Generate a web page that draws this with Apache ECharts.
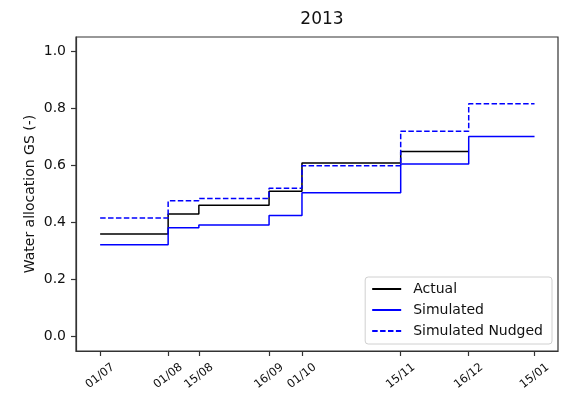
<!DOCTYPE html>
<html>
<head>
<meta charset="utf-8">
<script src="https://cdn.jsdelivr.net/npm/echarts@6/dist/echarts.min.js"></script>
<style>
  html, body { margin: 0; padding: 0; background: #fff; }
  #chart { width: 561px; height: 396px; }
</style>
</head>
<body>
<div id="chart"></div>
<script>
// Allocation announcement dates (each value holds until the next date)
const changeDates = ['2013-07-01', '2013-08-01', '2013-08-15', '2013-09-16',
                     '2013-10-01', '2013-11-15', '2013-12-16', '2014-01-15'];
// Water allocation per period, general security (-)
const actual    = [0.360, 0.430, 0.461, 0.510, 0.609, 0.649];
const simulated = [0.322, 0.382, 0.391, 0.425, 0.504, 0.605, 0.701];
const nudged    = [0.416, 0.476, 0.484, 0.520, 0.599, 0.720, 0.816];
const yTicks = [0.0, 0.2, 0.4, 0.6, 0.8, 1.0];
const titleText = '2013';

const DAY = 86400000;
const FONT = 'DejaVu Sans';

function toMs(d) {
  const [y, m, dd] = d.split('-').map(Number);
  return Date.UTC(y, m - 1, dd);
}
function fmtDate(v) {
  const d = new Date(v);
  const dd = String(d.getUTCDate()).padStart(2, '0');
  const mm = String(d.getUTCMonth() + 1).padStart(2, '0');
  return dd + '/' + mm;
}
// Post-step data: each value starts at its date, the last one is held to the next date
function stepData(values) {
  const pts = values.map((v, i) => [toMs(changeDates[i]), v]);
  pts.push([toMs(changeDates[values.length]), values[values.length - 1]]);
  return pts;
}

const xTicks = changeDates.map(toMs);
const xMin = xTicks[0] - 11 * DAY;
const xMax = xTicks[xTicks.length - 1] + 10.7 * DAY;

const chart = echarts.init(document.getElementById('chart'), null, { renderer: 'canvas' });

function lineSeries(name, values, color, type) {
  return {
    name: name,
    type: 'line',
    step: 'end',
    symbol: 'none',
    animation: false,
    data: stepData(values),
    itemStyle: { color: color },
    lineStyle: { color: color, width: 1.5, type: type, cap: 'butt' }
  };
}

chart.setOption({
  animation: false,
  backgroundColor: '#fff',
  textStyle: { fontFamily: FONT },
  title: {
    text: titleText,
    left: 317,
    top: 6,
    textAlign: 'center',
    textStyle: { fontFamily: FONT, fontSize: 17, fontWeight: 'normal', color: '#111' }
  },
  grid: {
    left: 76, right: 3, top: 37, bottom: 45,
    show: true, borderColor: '#333', borderWidth: 1.2, backgroundColor: 'transparent'
  },
  legend: {
    orient: 'vertical',
    right: 9,
    bottom: 52,
    itemWidth: 29,
    itemHeight: 14,
    itemGap: 7,
    padding: [5, 9, 6, 6],
    backgroundColor: '#fff',
    borderColor: '#d0d0d0',
    borderWidth: 1,
    borderRadius: 3,
    // line-only handles: the marker symbol is hidden
    itemStyle: { opacity: 0, borderWidth: 0 },
    textStyle: { fontFamily: FONT, fontSize: 14, color: '#111', padding: [0, 0, 0, 7] },
    data: ['Actual', 'Simulated', 'Simulated Nudged']
  },
  xAxis: {
    type: 'value',
    min: xMin,
    max: xMax,
    splitLine: { show: false },
    axisLine: { show: true, onZero: false, lineStyle: { color: '#333', width: 1.2 } },
    axisTick: { show: true, customValues: xTicks, length: 5, lineStyle: { color: '#333', width: 1.2 } },
    axisLabel: {
      customValues: xTicks,
      formatter: fmtDate,
      rotate: 38,
      align: 'center',
      verticalAlign: 'middle',
      margin: 25,
      hideOverlap: false,
      fontFamily: FONT,
      fontSize: 11.5,
      color: '#111'
    }
  },
  yAxis: {
    type: 'value',
    min: -0.05,
    max: 1.05,
    name: 'Water allocation GS (-)',
    nameLocation: 'middle',
    nameGap: 39,
    nameMoveOverlap: false,
    nameTextStyle: { fontFamily: FONT, fontSize: 14, color: '#111' },
    splitLine: { show: false },
    axisLine: { show: true, onZero: false, lineStyle: { color: '#333', width: 1.2 } },
    axisTick: { show: true, customValues: yTicks, length: 5, lineStyle: { color: '#333', width: 1.2 } },
    axisLabel: {
      customValues: yTicks,
      formatter: v => Number(v).toFixed(1),
      margin: 10,
      fontFamily: FONT,
      fontSize: 14,
      color: '#111'
    }
  },
  series: [
    lineSeries('Actual', actual, '#000000', 'solid'),
    lineSeries('Simulated', simulated, '#0000ff', 'solid'),
    lineSeries('Simulated Nudged', nudged, '#0000ff', [5.5, 2.4])
  ]
});
</script>
</body>
</html>
